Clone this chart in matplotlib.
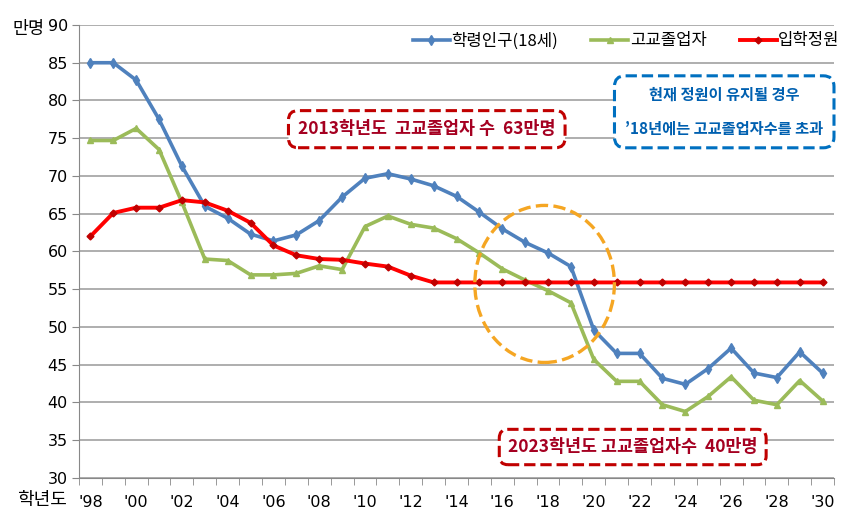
import numpy as np
import matplotlib
matplotlib.use("Agg")
import matplotlib.pyplot as plt
from matplotlib.patches import Ellipse

plt.rcParams['font.family'] = ['Noto Sans CJK KR', 'DejaVu Sans']

# 학년도 1998 ~ 2030
years = list(range(1998, 2031))
tick_labels = ["'%02d" % (y % 100) for y in years]

pop18 = [85.0, 85.0, 82.7, 77.5, 71.3, 66.0, 64.4, 62.3, 61.4, 62.2, 64.1,
         67.2, 69.7, 70.3, 69.6, 68.7, 67.3, 65.2, 63.0, 61.2, 59.8, 58.0,
         49.6, 46.5, 46.5, 43.2, 42.4, 44.5, 47.2, 43.9, 43.3, 46.7, 43.9]
grads = [74.7, 74.7, 76.3, 73.5, 66.5, 59.0, 58.8, 56.9, 56.9, 57.1, 58.1,
         57.6, 63.3, 64.7, 63.6, 63.1, 61.7, 59.8, 57.7, 56.2, 54.8, 53.2,
         45.7, 42.8, 42.8, 39.7, 38.8, 40.8, 43.4, 40.3, 39.7, 42.9, 40.2]
quota = [62.0, 65.1, 65.8, 65.8, 66.8, 66.5, 65.4, 63.8, 60.8, 59.5, 59.0,
         58.9, 58.4, 58.0, 56.8, 55.9, 55.9, 55.9, 55.9, 55.9, 55.9, 55.9,
         55.9, 55.9, 55.9, 55.9, 55.9, 55.9, 55.9, 55.9, 55.9, 55.9, 55.9]

x = np.arange(len(years))

fig = plt.figure(figsize=(8.62, 5.26), dpi=100)
ax = fig.add_axes([0.0916, 0.0913, 0.876, 0.8612])

ax.plot(x, pop18, color='#4F81BD', lw=2.6, marker='d', ms=5, label='학령인구(18세)', zorder=3)
ax.plot(x, grads, color='#9BBB59', lw=2.6, marker='^', ms=5, label='고교졸업자', zorder=3)
ax.plot(x, quota, color='#FF0000', lw=2.8, marker='D', ms=3.5,
        mec='#C00000', mfc='#C00000', label='입학정원', zorder=4)

ax.set_xlim(-0.5, len(years) - 0.5)
ax.set_ylim(30, 90)
ax.set_yticks(range(30, 91, 5))
ax.yaxis.grid(True, color='#999999', lw=1.1)
ax.set_axisbelow(True)

ax.set_xticks(x[::2])
ax.set_xticklabels(tick_labels[::2], fontsize=11.5, family='DejaVu Sans')
ax.set_xticks(np.arange(-0.5, len(years)), minor=True)
ax.tick_params(axis='x', which='major', length=0, pad=12)
ax.tick_params(axis='x', which='minor', length=5, color='#888888')
ax.tick_params(axis='y', length=5, color='#888888', labelsize=11.5, pad=3)
for lab in ax.get_yticklabels():
    lab.set_family('DejaVu Sans')

for s in ['top', 'right']:
    ax.spines[s].set_visible(False)
for s in ['left', 'bottom']:
    ax.spines[s].set_color('#888888')

fig.text(0.015, 0.945, '만명', fontsize=12.5, ha='left', va='center')
fig.text(0.02, 0.05, '학년도', fontsize=13, ha='left', va='center')

ax.legend(loc='center', bbox_to_anchor=(0.725, 0.965), ncol=3, frameon=False,
          fontsize=12, handlelength=2.2, handletextpad=0.1, columnspacing=2.0)

ax.text(14.7, 76.2, '2013학년도  고교졸업자 수  63만명', color='#A50021', fontsize=12.5,
        ha='center', va='center', fontweight='bold',
        bbox=dict(boxstyle='round,pad=0.55', fc='white', ec='#C00000', ls='--', lw=2.2))
ax.text(27.7, 78.5, '현재 정원이 유지될 경우\n\n\u201918년에는 고교졸업자수를 초과', color='#0060B0',
        fontsize=11, ha='center', va='center', fontweight='bold', linespacing=1.1,
        bbox=dict(boxstyle='round,pad=0.7', fc='white', ec='#0070C0', ls='--', lw=2.2))
ax.text(23.7, 34.1, '2023학년도 고교졸업자수  40만명', color='#A50021', fontsize=12.5,
        ha='center', va='center', fontweight='bold',
        bbox=dict(boxstyle='round,pad=0.5', fc='white', ec='#C00000', ls='--', lw=2.2))

ax.add_patch(Ellipse((19.85, 55.7), 6.1, 20.8, fill=False, ec='#F5A623', ls='--', lw=2.4, zorder=5))

fig.savefig('out.png', dpi=100)
